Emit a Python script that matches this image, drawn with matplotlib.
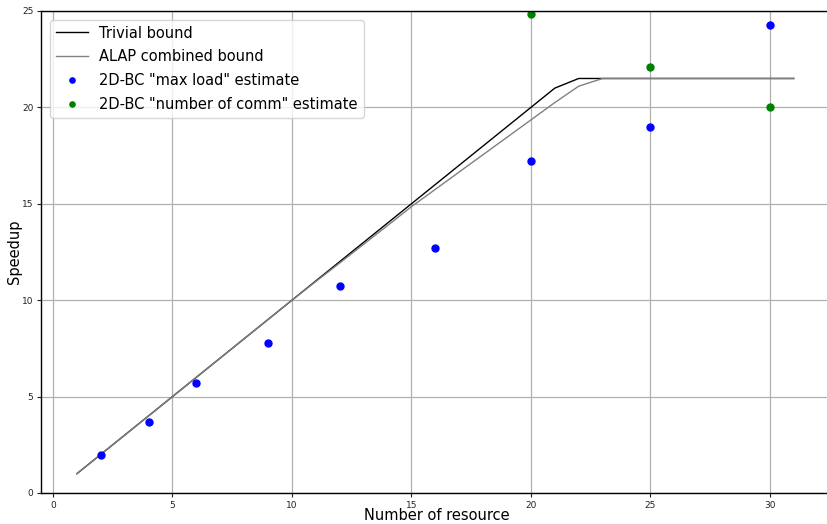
import matplotlib
matplotlib.use("Agg")
import matplotlib.pyplot as plt

# Resource counts evaluated for the bounds
resources = [1, 2, 3, 4, 5, 6, 7, 8, 9, 10, 11, 12, 13, 14, 15, 16,
             17, 18, 19, 20, 21, 22, 23, 24, 25, 26, 27, 28, 29, 30, 31]
trivial_bound = [1, 2, 3, 4, 5, 6, 7, 8, 9, 10, 11, 12, 13, 14, 15, 16,
                 17, 18, 19, 20, 21, 21.5, 21.5, 21.5, 21.5, 21.5, 21.5,
                 21.5, 21.5, 21.5, 21.5]
alap_bound = [1, 2, 3, 4, 5, 6, 7, 8, 9, 10, 10.97, 11.93, 12.9, 13.87,
              14.85, 15.75, 16.65, 17.55, 18.45, 19.35, 20.25, 21.1, 21.5,
              21.5, 21.5, 21.5, 21.5, 21.5, 21.5, 21.5, 21.5]

# 2D block-cyclic estimates
maxload_x = [2, 4, 6, 9, 12, 16, 20, 25, 30]
maxload_y = [1.97, 3.7, 5.69, 7.78, 10.74, 12.71, 17.22, 18.96, 24.27]
comm_x = [20, 25, 30]
comm_y = [24.87, 22.07, 20.0]

W, H = 828, 524
fig = plt.figure(figsize=(W / 100, H / 100), dpi=100)
ax = fig.add_axes([41 / W, 31 / H, 791 / W, 482 / H])

ax.plot(resources, trivial_bound, color="black", lw=1.0, label="Trivial bound")
ax.plot(resources, alap_bound, color="gray", lw=1.0, label="ALAP combined bound")
ax.plot(maxload_x, maxload_y, "o", color="blue", ms=5,
        label='2D-BC "max load" estimate')
ax.plot(comm_x, comm_y, "o", color="green", ms=5,
        label='2D-BC "number of comm" estimate')

ax.set_xlim(-0.5, 32.6)
ax.set_ylim(0, 25)
ax.set_xticks([0, 5, 10, 15, 20, 25, 30])
ax.set_yticks([0, 5, 10, 15, 20, 25])
ax.tick_params(labelsize=6.5, direction="out", length=3, pad=2.5,
               colors="#222222")
ax.grid(True, color="#b0b0b0", lw=0.9)
ax.set_axisbelow(True)
ax.spines["right"].set_visible(False)
for s in ("left", "bottom", "top"):
    ax.spines[s].set_linewidth(1.0)

ax.set_xlabel("Number of resource", fontsize=10.5, labelpad=-1)
ax.set_ylabel("Speedup", fontsize=10.5, labelpad=0)

ax.legend(loc="upper left", fontsize=10.5, numpoints=1, handlelength=2.2,
          labelspacing=0.6, markerscale=0.75, borderaxespad=0.6,
          framealpha=0.8)

fig.savefig("out.png", dpi=100)
